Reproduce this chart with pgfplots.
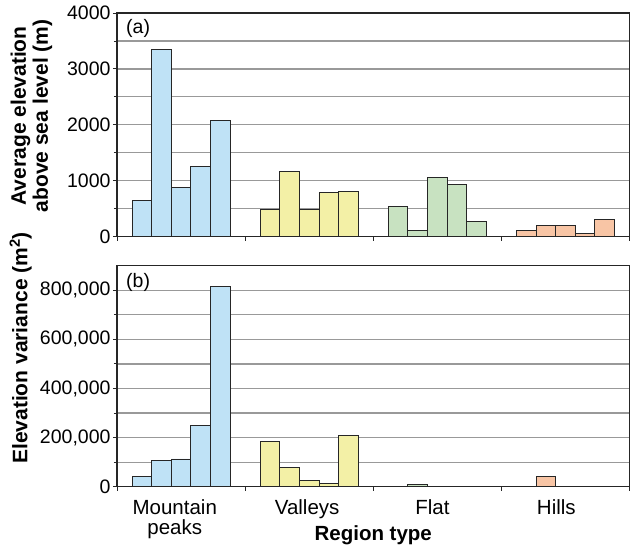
\documentclass[border=0pt]{standalone}
\usepackage{pgfplots}
\pgfplotsset{compat=1.18}
\usepackage{fontspec}
\setmainfont{Liberation Sans}
\definecolor{cblue}{HTML}{BFE2F6}
\definecolor{cyellow}{HTML}{F3F0A6}
\definecolor{cgreen}{HTML}{C8E2C1}
\definecolor{corange}{HTML}{F8C5A5}
\pgfplotsset{
  common/.style={
    scale only axis, width=512.5pt,
    xmin=-0.5, xmax=3.5,
    axis line style={line width=1.3pt, draw=black!85},
    xtick={-0.5,0.5,1.5,2.5,3.5}, xticklabels={},
    xtick pos=bottom, ytick pos=left, tick align=outside,
    major tick length=4pt, minor tick length=3pt,
    every tick/.style={line width=0.9pt, black!85},
    ymajorgrids=true, yminorgrids=true,
    major grid style={line width=1.2pt, black!40},
    minor grid style={line width=1.2pt, black!40},
    yticklabel style={font=\fontsize{19.5}{20}\selectfont, xshift=1pt},
    ylabel style={font=\fontsize{21}{22}\selectfont\bfseries, align=center, anchor=center},
  },
  bars/.style={ybar, bar width=0.1528, bar shift=0pt, draw=black!85, line width=0.9pt},
}
\begin{document}
\begin{tikzpicture}
\useasboundingbox (0,0) rectangle (630pt,550pt);
% (a)
\begin{axis}[common,
  at={(117pt,313.3pt)}, anchor=south west, height=223.7pt,
  ymin=0, ymax=4000, ytick={0,1000,2000,3000,4000}, minor ytick={500,1500,2500,3500},
  yticklabels={0,1000,2000,3000,4000},
  ylabel={Average elevation\\above sea level (m)},
  ylabel style={at={(axis description cs:-0.1668,0.54)}},
]
\addplot[bars, fill=cblue] coordinates {(-0.3056,642) (-0.1528,3340) (0,888) (0.1528,1248) (0.3056,2086)};
\addplot[bars, fill=cyellow] coordinates {(0.6944,493) (0.8472,1158) (1,493) (1.1528,786) (1.3056,816)};
\addplot[bars, fill=cgreen] coordinates {(1.6944,540) (1.8472,108) (2,1061) (2.1528,935) (2.3056,270)};
\addplot[bars, fill=corange] coordinates {(2.6944,108) (2.8472,198) (3,198) (3.1528,61) (3.3056,300)};
\node[anchor=north west, inner sep=0pt, font=\fontsize{19.5}{20}\selectfont] at ([xshift=9pt,yshift=-6.5pt]rel axis cs:0,1) {(a)};
\end{axis}
% (b)
\begin{axis}[common,
  at={(117pt,63.3pt)}, anchor=south west, height=221pt,
  ymin=0, ymax=900000, ytick={0,200000,400000,600000,800000},
  minor ytick={100000,300000,500000,700000},
  yticklabels={0,{200,000},{400,000},{600,000},{800,000}},
  scaled y ticks=false,
  ylabel={Elevation variance (m\textsuperscript{2})},
  ylabel style={at={(axis description cs:-0.188,0.628)}},
  xlabel={Region type},
  xlabel style={font=\fontsize{20.5}{21}\selectfont\bfseries, anchor=base, at={(axis description cs:0.5,-0.2457)}},
  xticklabel style={align=center, font=\fontsize{20.5}{20.5}\selectfont},
  extra x ticks={-0.049,0.984,1.962,2.929},
  extra x tick labels={{Mountain\\peaks},Valleys,Flat,Hills},
  extra x tick style={major tick length=0pt, xticklabel style={yshift=-9pt}},
]
\addplot[bars, fill=cblue] coordinates {(-0.3056,40500) (-0.1528,105000) (0,113000) (0.1528,250000) (0.3056,815000)};
\addplot[bars, fill=cyellow] coordinates {(0.6944,186000) (0.8472,78500) (1,26000) (1.1528,14000) (1.3056,209000)};
\addplot[bars, fill=cgreen] coordinates {(1.8472,11000)};
\addplot[bars, fill=corange] coordinates {(2.8472,43000)};
\node[anchor=north west, inner sep=0pt, font=\fontsize{19.5}{20}\selectfont] at ([xshift=9pt,yshift=-7pt]rel axis cs:0,1) {(b)};
\end{axis}
\end{tikzpicture}
\end{document}
